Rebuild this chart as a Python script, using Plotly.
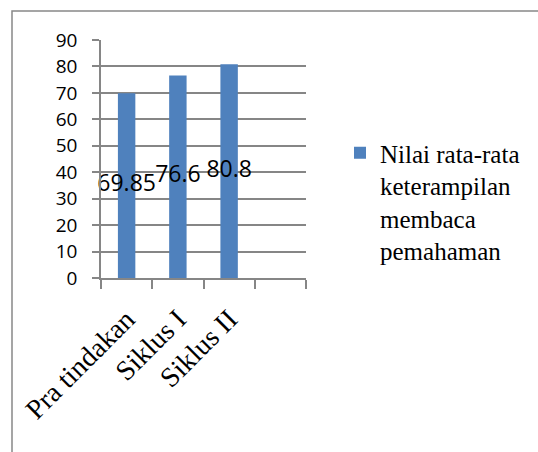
import plotly.graph_objects as go

categories = ["Pra tindakan", "Siklus I", "Siklus II", " "]
values = [69.85, 76.6, 80.8, None]
label_text = ["69.85", "76.6", "80.8", ""]
series_name = "Nilai rata-rata<br>keterampilan<br>membaca<br>pemahaman"
y_ticks = [0, 10, 20, 30, 40, 50, 60, 70, 80, 90]

W, H = 538, 452
L, R, T, B = 101, 232, 40, 174

fig = go.Figure()
fig.add_trace(go.Bar(
    x=categories, y=values, name=series_name,
    marker=dict(color="#4F81BD", line=dict(width=0)),
    width=0.34, showlegend=True,
))
fig.add_trace(go.Scatter(
    x=categories[:3], y=[v / 2 for v in values[:3]], text=label_text[:3],
    mode="text", textposition="middle center",
    textfont=dict(family="Open Sans", size=23, color="#000000"),
    showlegend=False, hoverinfo="skip", cliponaxis=False,
))

pw = W - L - R
ph = H - T - B
fig.add_shape(type="rect", xref="paper", yref="paper",
              x0=(12 - L) / pw, x1=(W + 20 - L) / pw,
              y0=-(H + 20 - (H - B)) / ph, y1=1 + (T - 11) / ph,
              line=dict(color="#888888", width=1.5), fillcolor="rgba(0,0,0,0)", layer="below")

fig.update_layout(
    width=W, height=H,
    margin=dict(l=L, r=R, t=T, b=B, autoexpand=False),
    paper_bgcolor="white", plot_bgcolor="white",
    xaxis=dict(
        type="category", categoryorder="array", categoryarray=categories,
        range=[-0.5, 3.5], tickson="boundaries", ticks="outside", ticklen=9,
        tickcolor="#868686", tickwidth=1.5,
        showline=True, linecolor="#868686", linewidth=1.5,
        showgrid=False, tickangle=-45, ticklabelstandoff=12,
        tickfont=dict(family="Liberation Serif", size=28, color="#000000"),
    ),
    yaxis=dict(
        range=[0, 90], tickvals=y_ticks, ticks="outside", ticklen=7,
        tickcolor="#868686", tickwidth=1.5,
        showline=True, linecolor="#868686", linewidth=1.5,
        showgrid=True, gridcolor="#868686", gridwidth=1.5,
        zeroline=False, ticklabelstandoff=11,
        tickfont=dict(family="Open Sans", size=19, color="#000000"),
    ),
    legend=dict(
        x=(340 - L) / pw, y=1 - (130 - T) / ph, xanchor="left", yanchor="top",
        font=dict(family="Liberation Serif", size=25, color="#000000"),
        valign="top", itemwidth=30, tracegroupgap=0,
    ),
)

fig.write_html("out.html")
